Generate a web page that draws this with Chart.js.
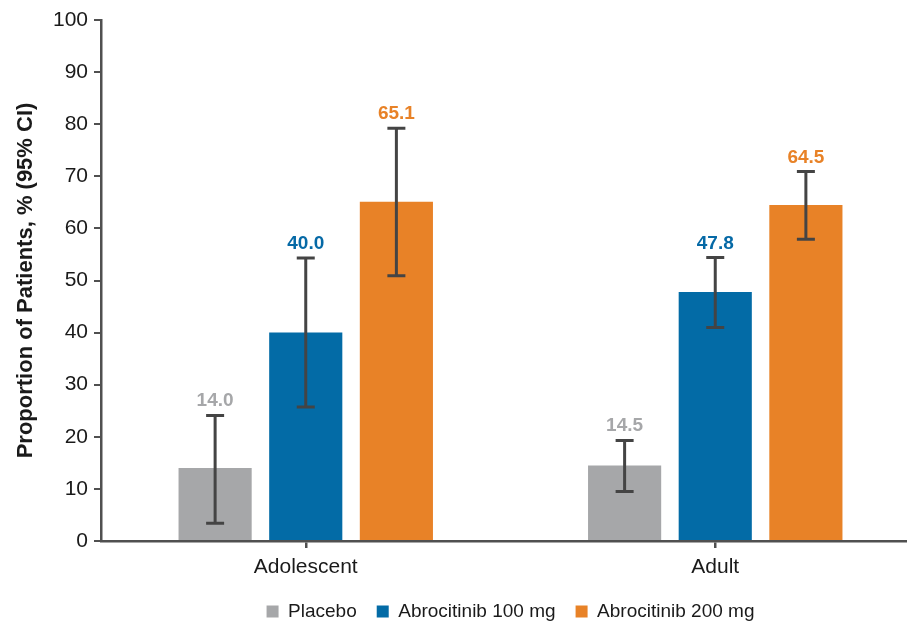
<!DOCTYPE html>
<html>
<head>
<meta charset="utf-8">
<script src="https://cdn.jsdelivr.net/npm/chart.js@4/dist/chart.umd.min.js"></script>
<style>
  html, body { margin: 0; padding: 0; overflow: hidden; background: #ffffff; }
  #wrap { width: 920px; height: 626px; }
</style>
</head>
<body>
<div id="wrap"><canvas id="chart" width="920" height="626"></canvas></div>
<script>
// Response rates by age group, % of patients with 95% CI
const categories = ['Adolescent', 'Adult'];
const seriesNames = ['Placebo', 'Abrocitinib 100 mg', 'Abrocitinib 200 mg'];

const placebo = [14.0, 14.5];
const abro100 = [40.0, 47.8];
const abro200 = [65.1, 64.5];

const placeboLow  = [3.4, 9.5];
const placeboHigh = [24.1, 19.3];
const abro100Low  = [25.7, 41.0];
const abro100High = [54.3, 54.4];
const abro200Low  = [50.9, 57.9];
const abro200High = [79.2, 70.9];

const yTicks = [0, 10, 20, 30, 40, 50, 60, 70, 80, 90, 100];

const barColors   = ['#a6a7a9', '#036ba6', '#e88227'];
const labelColors = ['#a6a7a9', '#0569a6', '#e88227'];
const axisColor = '#505050';
const textColor = '#1a1a1a';
const FONT = '"Liberation Sans", Arial, sans-serif';

const ciLow  = [placeboLow, abro100Low, abro200Low];
const ciHigh = [placeboHigh, abro100High, abro200High];
const values = [placebo, abro100, abro200];

// Draws the CI whiskers and the value labels above each bar
const ciPlugin = {
  id: 'ciWhiskers',
  afterDatasetsDraw(chart) {
    const ctx = chart.ctx;
    const y = chart.scales.y;
    chart.data.datasets.forEach((ds, di) => {
      const meta = chart.getDatasetMeta(di);
      meta.data.forEach((bar, i) => {
        const x = bar.x;
        const yLo = y.getPixelForValue(ciLow[di][i]);
        const yHi = y.getPixelForValue(ciHigh[di][i]);
        const cap = 9;
        ctx.save();
        ctx.strokeStyle = '#444444';
        ctx.lineWidth = 3;
        ctx.lineCap = 'butt';
        ctx.beginPath();
        ctx.moveTo(x, yLo); ctx.lineTo(x, yHi);
        ctx.moveTo(x - cap, yHi); ctx.lineTo(x + cap, yHi);
        ctx.moveTo(x - cap, yLo); ctx.lineTo(x + cap, yLo);
        ctx.stroke();
        ctx.fillStyle = labelColors[di];
        ctx.font = 'bold 19px ' + FONT;
        ctx.textAlign = 'center';
        ctx.textBaseline = 'alphabetic';
        ctx.fillText(values[di][i].toFixed(1), x, yHi - 9);
        ctx.restore();
      });
    });
  }
};

new Chart(document.getElementById('chart'), {
  type: 'bar',
  data: {
    labels: categories,
    datasets: seriesNames.map((name, k) => ({
      label: name,
      data: values[k],
      backgroundColor: barColors[k],
      borderWidth: 0,
      categoryPercentage: 0.664,
      barPercentage: 0.807
    }))
  },
  plugins: [ciPlugin],
  options: {
    responsive: false,
    animation: false,
    layout: { padding: { top: 20, left: 0, right: 0, bottom: -5 } },
    plugins: {
      tooltip: { enabled: false },
      legend: {
        position: 'bottom',
        fullSize: false,
        labels: {
          boxWidth: 12,
          boxHeight: 12,
          padding: 20,
          color: textColor,
          font: { family: FONT, size: 19 }
        }
      }
    },
    scales: {
      x: {
        grid: {
          display: true,
          offset: false,
          drawOnChartArea: false,
          drawTicks: true,
          tickLength: 7,
          color: axisColor,
          lineWidth: 2.5
        },
        border: { display: true, color: axisColor, width: 2.5 },
        ticks: { color: textColor, padding: 7, font: { family: FONT, size: 21 } },
        afterFit(scale) { scale.height = 41; }
      },
      y: {
        min: 0,
        max: 100,
        afterBuildTicks(scale) { scale.ticks = yTicks.map(v => ({ value: v })); },
        grid: {
          display: true,
          drawOnChartArea: false,
          drawTicks: true,
          tickLength: 7,
          color: axisColor,
          lineWidth: 2
        },
        border: { display: true, color: axisColor, width: 2.5 },
        ticks: { color: textColor, padding: 6, font: { family: FONT, size: 21 } },
        title: {
          display: true,
          text: 'Proportion of Patients, % (95% CI)',
          color: textColor,
          font: { family: FONT, size: 22, weight: 'bold' },
          padding: { top: 13, bottom: 0 }
        },
        afterFit(scale) { scale.width = 101; }
      }
    }
  }
});
</script>
</body>
</html>
